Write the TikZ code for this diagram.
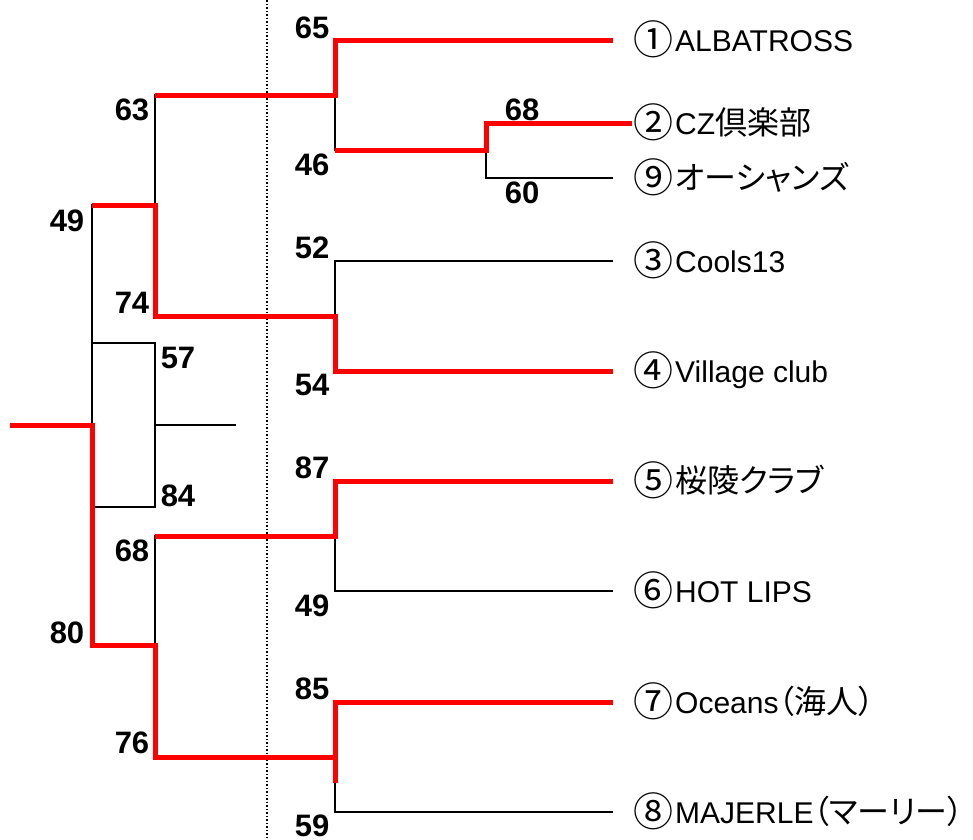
\documentclass[tikz,border=0pt]{standalone}
\usepackage{fontspec}
\setmainfont{Liberation Sans}
\newfontfamily\cjk[RawFeature=+palt]{Noto Sans CJK JP}
\newcommand\jtext[1]{{\cjk\fontsize{32}{32}\selectfont #1}}
\newcommand\circnum[1]{\raisebox{-3pt}{\cjk\fontsize{40}{40}\selectfont #1}\hspace{2pt}}

\begin{document}
\begin{tikzpicture}[x=1pt,y=-1pt,
  wire/.style={black,line width=2pt},
  thinwire/.style={black,line width=1.2pt},
  win/.style={red,line width=5pt},
  dotline/.style={black,line width=1.5pt,dash pattern=on 1.5pt off 2pt},
  score/.style={inner sep=0pt,font=\fontsize{31}{31}\selectfont\bfseries},
  team/.style={anchor=base west,inner sep=0pt,font=\fontsize{30}{30}\selectfont}]
  \useasboundingbox (0,0) rectangle (973,839);

  % line ends at the teams
  \coordinate (e1) at (613,40);
  \coordinate (e2) at (632,123);
  \coordinate (e9) at (613,178);
  \coordinate (e3) at (613,261);
  \coordinate (e4) at (613,371);
  \coordinate (e5) at (613,481);
  \coordinate (e6) at (613,591);
  \coordinate (e7) at (613,702);
  \coordinate (e8) at (613,812);
  % junctions
  \coordinate (j29) at (486,150);
  \coordinate (j19) at (335,95);
  \coordinate (j34) at (335,316);
  \coordinate (j56) at (335,536);
  \coordinate (j78) at (335,757);
  \coordinate (j78x) at (335,783);
  \coordinate (jA) at (155,205);
  \coordinate (jB) at (155,645);
  \coordinate (jF) at (92,425);
  \coordinate (champ) at (10,425);
  % third place
  \coordinate (p1) at (92,343);
  \coordinate (p2) at (92,507);
  \coordinate (p3) at (155,425);
  \coordinate (p4) at (236,425);
  \coordinate (dtop) at (267,0);
  \coordinate (dbot) at (267,839);

  \draw[dotline] (dtop) -- (dbot);

  \draw[wire] (e2) -| (j29) |- (e9);
  \draw[wire] (e1) -| (j19) |- (j29);
  \draw[wire] (e3) -| (j34) |- (e4);
  \draw[wire] (e5) -| (j56) |- (e6);
  \draw[wire] (e7) -| (j78) |- (e8);
  \draw[wire] (j19) -| (jA) |- (j34);
  \draw[wire] (j56) -| (jB) |- (j78);
  \draw[wire] (jA) -| (jF) |- (jB);
  \draw[thinwire] (p1) -| (p3) |- (p2);
  \draw[thinwire] (p3) -- (p4);

  \draw[win] (e1) -| (j19) -- (jA |- j19);
  \draw[win] (e2) -| (j29) -- (j19 |- j29);
  \draw[win] (e4) -| (j34) -| (jA) -- (jF |- jA);
  \draw[win] (e5) -| (j56) -- (jB |- j56);
  \draw[win] (e7) -| (j78x);
  \draw[win] (j78) -| (jB) -| (jF) -- (champ);

  \node[team] (t1) at (633,51) {\circnum{①}ALBATROSS};
  \node[team] (t2) at (633,134) {\circnum{②}CZ\jtext{倶楽部}};
  \node[team] (t9) at (633,189) {\circnum{⑨}\jtext{オーシャンズ}};
  \node[team] (t3) at (633,272) {\circnum{③}Cools13};
  \node[team] (t4) at (633,382) {\circnum{④}Village club};
  \node[team] (t5) at (633,492) {\circnum{⑤}\jtext{桜陵クラブ}};
  \node[team] (t6) at (633,602) {\circnum{⑥}HOT LIPS};
  \node[team] (t7) at (633,713) {\circnum{⑦}Oceans\jtext{（海人）}};
  \node[team] (t8) at (633,823) {\circnum{⑧}MAJERLE\jtext{（マーリー）}};

  \node[score] (m1u) at (522,110) {68};
  \node[score] (m1l) at (522,193) {60};
  \node[score] (m2u) at (312,28) {65};
  \node[score] (m2l) at (312,165) {46};
  \node[score] (m3u) at (312,248) {52};
  \node[score] (m3l) at (312,385) {54};
  \node[score] (m4u) at (312,468) {87};
  \node[score] (m4l) at (312,606) {49};
  \node[score] (m5u) at (312,689) {85};
  \node[score] (m5l) at (312,826) {59};
  \node[score] (m6u) at (132,110) {63};
  \node[score] (m6l) at (132,303) {74};
  \node[score] (m7u) at (132,551) {68};
  \node[score] (m7l) at (132,743) {76};
  \node[score] (m8u) at (67,221) {49};
  \node[score] (m8l) at (67,633) {80};
  \node[score] (m9u) at (178,358) {57};
  \node[score] (m9l) at (178,496) {84};
\end{tikzpicture}
\end{document}
